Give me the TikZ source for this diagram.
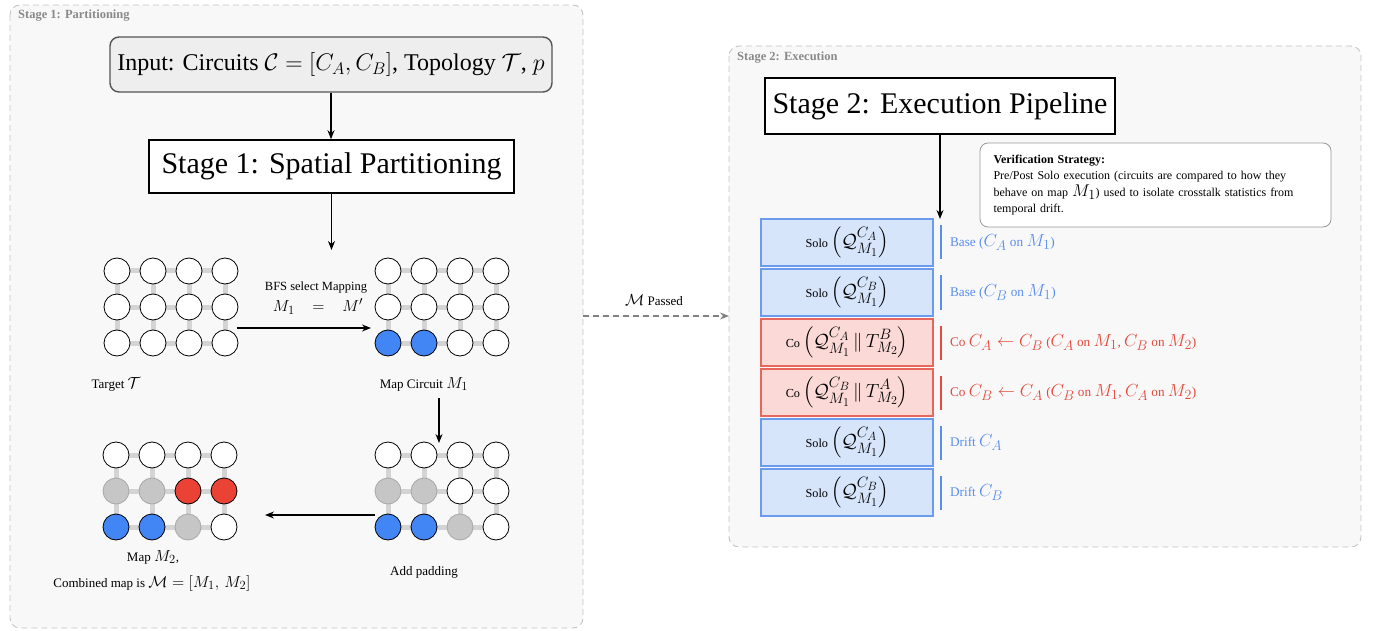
\RequirePackage{fix-cm}
\documentclass[tikz,border=0pt]{standalone}
\usepackage{amsmath}
\usepackage{fontspec}
\setmainfont{Liberation Serif}
\DeclareMathSizes{12}{17}{14}{11}
\DeclareMathSizes{13}{16}{12.5}{10}
\DeclareMathSizes{13.25}{17.5}{14}{11}
\DeclareMathSizes{12.25}{19}{15}{12}
\usetikzlibrary{arrows.meta,calc}
\definecolor{panelfill}{HTML}{F8F8F8}
\definecolor{panelborder}{HTML}{C4C4C4}
\definecolor{panellabel}{HTML}{8A8A8A}
\definecolor{qblue}{HTML}{4285F4}
\definecolor{qred}{HTML}{EA4335}
\definecolor{qgray}{HTML}{C6C6C6}
\definecolor{qgrayline}{HTML}{A8A8A8}
\definecolor{edgegray}{HTML}{D4D4D4}
\definecolor{soloFill}{HTML}{D7E5FB}
\definecolor{soloDraw}{HTML}{6A9BEF}
\definecolor{coFill}{HTML}{FAD9D6}
\definecolor{coDraw}{HTML}{E8675C}
\definecolor{lblBlue}{HTML}{5B8DEF}
\definecolor{lblRed}{HTML}{E64A3C}
\definecolor{inputFill}{HTML}{EEEEEE}
\definecolor{inputDraw}{HTML}{555555}
\pgfdeclarelayer{panels}
\pgfdeclarelayer{edges}
\pgfsetlayers{panels,edges,main}
\newcommand{\fs}[1]{\fontsize{#1}{#1}\selectfont}
\newcommand{\qubitgrid}[4]{%
  \foreach \cc [count=\i from 0] in {#4} {
    \pgfmathtruncatemacro\qrow{int(\i/4)}
    \pgfmathtruncatemacro\qcol{mod(\i,4)}
    \node[qubit,\cc] (#1-\qrow-\qcol) at ({#2+36*\qcol},{#3+36*\qrow}) {};
  }
  \begin{pgfonlayer}{edges}
    \foreach \r in {0,1,2} {
      \draw[qedge] (#1-\r-0) -- (#1-\r-1) -- (#1-\r-2) -- (#1-\r-3);
    }
    \foreach \c in {0,1,2,3} {
      \draw[qedge] (#1-0-\c) -- (#1-1-\c) -- (#1-2-\c);
    }
  \end{pgfonlayer}
}
\begin{document}
\begin{tikzpicture}[x=1pt,y=-1pt,
  panel/.style={draw=panelborder, fill=panelfill, dashed, dash pattern=on 6pt off 4pt, line width=0.9pt, rounded corners=10pt},
  panellbl/.style={anchor=west, text=panellabel, font=\fs{12.5}\bfseries, inner sep=0pt},
  qubit/.style={circle, draw=black, line width=0.8pt, minimum size=26pt, inner sep=0pt, fill=white},
  qw/.style={fill=white},
  qb/.style={fill=qblue},
  qr/.style={fill=qred},
  qg/.style={fill=qgray, draw=qgrayline},
  qedge/.style={draw=edgegray, line width=5pt},
  arr/.style={-{Stealth[length=9pt,width=7pt]}, line width=1.3pt, black},
  titlebox/.style={draw=black, line width=1.6pt, fill=white, inner sep=0pt, font=\fs{30}},
  smalllbl/.style={font=\fs{13}, inner sep=0pt},
  rowbox/.style={line width=1.8pt, minimum width=172pt, minimum height=47pt, inner sep=0pt, font=\fs{12.25}},
  solo/.style={rowbox, fill=soloFill, draw=soloDraw},
  co/.style={rowbox, fill=coFill, draw=coDraw},
  rowlbl/.style={anchor=west, inner sep=0pt, font=\fs{13.25}},
  bar/.style={line width=1.6pt},
]
\useasboundingbox (0,0) rectangle (1374,631);
\begin{pgfonlayer}{panels}
  \fill[white] (0,0) rectangle (1374,631);
  \draw[panel] (10,5) rectangle (583,628);
  \draw[panel] (729,46) rectangle (1361,547);
\end{pgfonlayer}
\node[panellbl] (p1lbl) at (18,16) {Stage 1: Partitioning};
\node[panellbl] (p2lbl) at (737,58) {Stage 2: Execution};

% ---------- Stage 1 ----------
\node[draw=inputDraw, fill=inputFill, line width=1.4pt, rounded corners=9pt,
      minimum width=442pt, minimum height=55pt, inner sep=0pt, font=\fs{24}]
      (input) at (331,64.5) {Input: Circuits $\mathcal{C}=[C_A,C_B]$, Topology $\mathcal{T}$, $p$};
\node[titlebox, minimum width=365pt, minimum height=53pt] (s1) at (331.5,166.5) {Stage 1: Spatial Partitioning};
\draw[arr] (input.south) -- (input.south |- s1.north);
\coordinate (s1end) at (331.5,250);
\draw[arr] (s1.south) -- (s1end);

\qubitgrid{ga}{117}{271}{qw,qw,qw,qw, qw,qw,qw,qw, qw,qw,qw,qw}
\qubitgrid{gb}{388}{271}{qw,qw,qw,qw, qw,qw,qw,qw, qb,qb,qw,qw}
\qubitgrid{gc}{388}{455}{qw,qw,qw,qw, qg,qg,qw,qw, qb,qb,qg,qw}
\qubitgrid{gd}{116}{455}{qw,qw,qw,qw, qg,qg,qr,qr, qb,qb,qg,qw}

\coordinate (a1s) at (237,328);
\coordinate (a1e) at (371,328);
\draw[arr] (a1s) -- (a1e);
\node[font=\fs{12.5}, inner sep=0pt] (bfs) at (316,288) {BFS select Mapping};
\node[font=\fs{13}, inner sep=0pt] (bfsm) at (318,306.5) {$M_1\;\;\;=\;\;\;M'$};

\coordinate (a2s) at (439,398);
\coordinate (a2e) at (439,443);
\draw[arr] (a2s) -- (a2e);
\coordinate (a3s) at (375,515);
\coordinate (a3e) at (265,515);
\draw[arr] (a3s) -- (a3e);

\node[smalllbl] (ltarget) at (116,384) {Target $\mathcal{T}$};
\node[smalllbl] (lmap1) at (424,384) {Map Circuit $M_1$};
\node[smalllbl] (lpad) at (424,572) {Add padding};
\node[smalllbl] (lmap2) at (153,557) {Map $M_2$,};
\node[smalllbl] (lcomb) at (152,583) {Combined map is $\mathcal{M}=[M_1,\, M_2]$};

% ---------- passing ----------
\coordinate (ps) at (583,316);
\coordinate (pe) at (729,316);
\draw[-{Stealth[length=9pt,width=7pt]}, draw=gray, fill=gray, line width=1.3pt, dash pattern=on 6pt off 4pt] (ps) -- (pe);
\node[smalllbl] (passed) at (654,300) {$\mathcal{M}$ Passed};

% ---------- Stage 2 ----------
\node[titlebox, minimum width=350pt, minimum height=56pt] (s2) at (940,106) {Stage 2: Execution Pipeline};
\coordinate (s2end) at (940,219);
\draw[arr] (s2.south) -- (s2end);

\node[draw=gray!80, fill=white, line width=0.8pt, rounded corners=8pt,
      minimum width=351pt, minimum height=84pt, text width=324pt, align=left,
      inner sep=0pt, font=\fontsize{12}{16.5}\selectfont] (verif) at (1155.5,185)
 {\textbf{Verification Strategy:}\\
  Pre/Post Solo execution (circuits are compared to how they\\
  behave on map $M_1$) used to isolate crosstalk statistics from\\
  temporal drift.};

\node[solo] (r1) at (847,242.5) {Solo $\displaystyle\left(\mathcal{Q}^{C_A}_{M_1}\right)$};
\node[solo] (r2) at (847,292.5) {Solo $\displaystyle\left(\mathcal{Q}^{C_B}_{M_1}\right)$};
\node[co]   (r3) at (847,342.5) {Co $\displaystyle\left(\mathcal{Q}^{C_A}_{M_1}\,\|\,T^{B}_{M_2}\right)$};
\node[co]   (r4) at (847,392.5) {Co $\displaystyle\left(\mathcal{Q}^{C_B}_{M_1}\,\|\,T^{A}_{M_2}\right)$};
\node[solo] (r5) at (847,442.5) {Solo $\displaystyle\left(\mathcal{Q}^{C_A}_{M_1}\right)$};
\node[solo] (r6) at (847,492.5) {Solo $\displaystyle\left(\mathcal{Q}^{C_B}_{M_1}\right)$};

\foreach \n/\col in {1/lblBlue,2/lblBlue,3/lblRed,4/lblRed,5/lblBlue,6/lblBlue} {
  \draw[bar, draw=\col] ([xshift=7pt,yshift=17pt]r\n.east) -- ([xshift=7pt,yshift=-17pt]r\n.east);
}
\node[rowlbl, text=lblBlue] (l1) at ([xshift=16pt]r1.east) {Base ($C_A$ on $M_1$)};
\node[rowlbl, text=lblBlue] (l2) at ([xshift=16pt]r2.east) {Base ($C_B$ on $M_1$)};
\node[rowlbl, text=lblRed]  (l3) at ([xshift=16pt]r3.east) {Co $C_A\leftarrow C_B$ ($C_A$ on $M_1$, $C_B$ on $M_2$)};
\node[rowlbl, text=lblRed]  (l4) at ([xshift=16pt]r4.east) {Co $C_B\leftarrow C_A$ ($C_B$ on $M_1$, $C_A$ on $M_2$)};
\node[rowlbl, text=lblBlue] (l5) at ([xshift=16pt]r5.east) {Drift $C_A$};
\node[rowlbl, text=lblBlue] (l6) at ([xshift=16pt]r6.east) {Drift $C_B$};
\end{tikzpicture}
\end{document}
